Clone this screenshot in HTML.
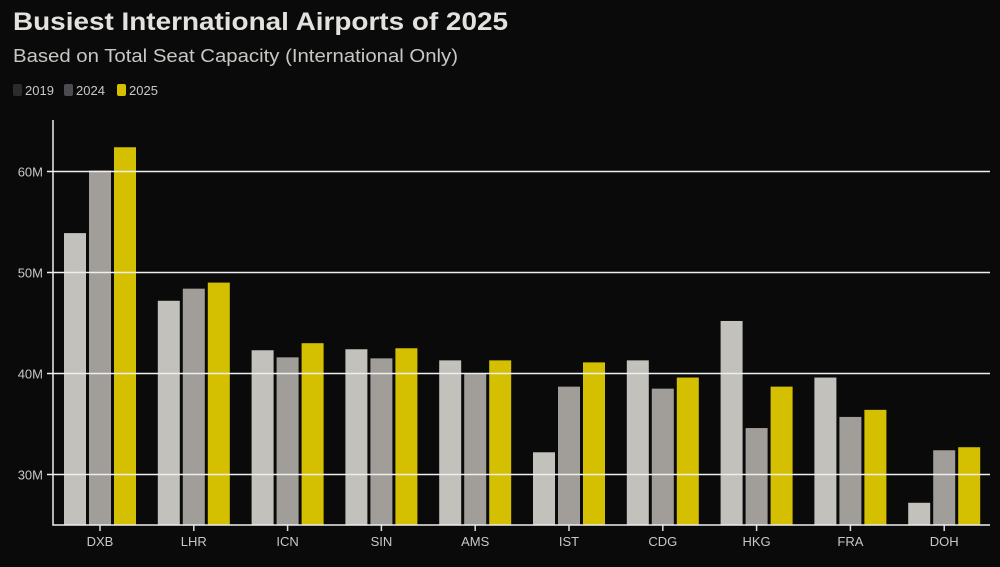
<!DOCTYPE html>
<html><head><meta charset="utf-8"><style>
body{margin:0;background:#0a0a0b;width:1000px;height:562px;overflow:hidden;font-family:"Liberation Sans",sans-serif}
</style></head><body>
<svg width="1000" height="562">
<text x="13" y="30" fill="#e4e2de" font-size="25" font-weight="bold" textLength="495" lengthAdjust="spacingAndGlyphs">Busiest International Airports of 2025</text>
<text x="13" y="62" fill="#c9c7c3" font-size="18" textLength="445" lengthAdjust="spacingAndGlyphs">Based on Total Seat Capacity (International Only)</text>
<g>
<rect x="13" y="84" width="9" height="12" rx="2" fill="#2b2c2e"/>
<text x="25" y="95" fill="#c9c7c3" font-size="13">2019</text>
<rect x="64" y="84" width="9" height="12" rx="2" fill="#4a4c4f"/>
<text x="76" y="95" fill="#c9c7c3" font-size="13">2024</text>
<rect x="117" y="84" width="9" height="12" rx="2" fill="#d4bf00"/>
<text x="129" y="95" fill="#c9c7c3" font-size="13">2025</text>
</g>
<g id="plot"></g>
</svg>
<script>
const categories=["DXB","LHR","ICN","SIN","AMS","IST","CDG","HKG","FRA","DOH"];
const v2019=[53.9,47.2,42.3,42.4,41.3,32.2,41.3,45.2,39.6,27.2];
const v2024=[60.1,48.4,41.6,41.5,40.0,38.7,38.5,34.6,35.7,32.4];
const v2025=[62.4,49.0,43.0,42.5,41.3,41.1,39.6,38.7,36.4,32.7];
const yTicks=[30,40,50,60];
const yTickLabels=["30M","40M","50M","60M"];
const NS="http://www.w3.org/2000/svg";
const g=document.getElementById('plot');
const y=v=>525-(v-25)*10.1;
const xc=i=>100+i*93.8;
function el(t,a){const e=document.createElementNS(NS,t);for(const k in a)e.setAttribute(k,a[k]);g.appendChild(e);return e;}
const series=[[v2019,"#c3c1bb",-36,"2019"],[v2024,"#a19d98",-11,"2024"],[v2025,"#d4c000",14,"2025"]];
categories.forEach((c,i)=>{
 series.forEach(s=>{
  const r=el('rect',{x:xc(i)+s[2],y:y(s[0][i]),width:22,height:525-y(s[0][i]),fill:s[1]});
  
  
 });
 const tk=el('line',{x1:xc(i),x2:xc(i),y1:525,y2:531,stroke:'#ddd','stroke-width':1.5});
 
 
 const t=el('text',{x:xc(i),y:546,fill:'#c9c7c3','font-size':13,'text-anchor':'middle'});
 t.textContent=c;
 
 
});
yTicks.forEach((v,i)=>{
 const l=el('line',{x1:47,x2:990,y1:y(v),y2:y(v),stroke:'#eee','stroke-width':1.5});
 
 
 const t=el('text',{x:43,y:y(v)+5,fill:'#c9c7c3','font-size':13,'text-anchor':'end'});
 t.textContent=yTickLabels[i];
 
 
});
const ax=el('path',{d:'M53 120 V525 H990',fill:'none',stroke:'#eee','stroke-width':1.5});


</script>
</body></html>
